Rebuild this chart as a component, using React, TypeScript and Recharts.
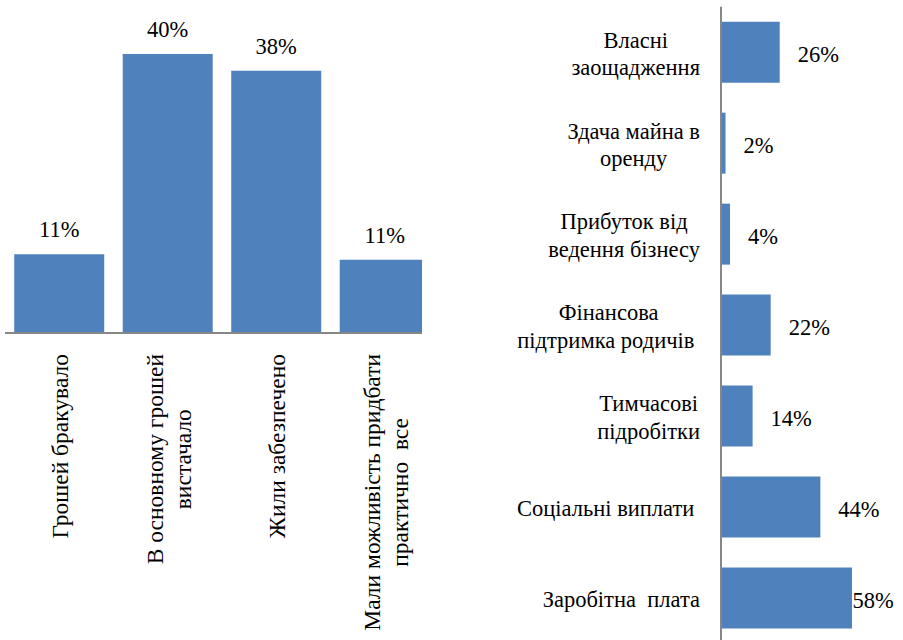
import React from 'react';
import { BarChart, Bar, XAxis, YAxis, LabelList } from 'recharts';

const FONT = 'Liberation Serif';
const BAR_COLOR = '#4F81BD';
const AXIS_COLOR = '#878787';

// Left chart: how households lived
const livingCategories = [
  'Грошей бракувало',
  'В основному грошей\nвистачало',
  'Жили забезпечено',
  'Мали можливість придбати\nпрактично  все',
];
const livingShares = [11.3, 40, 37.6, 10.5];

// Right chart: sources of income
const incomeCategories = [
  'Власні\nзаощадження',
  'Здача майна в\nоренду',
  'Прибуток від\nведення бізнесу',
  'Фінансова\nпідтримка родичів ',
  'Тимчасові\nпідробітки',
  'Соціальні виплати ',
  'Заробітна  плата',
];
const incomeShares = [26, 2, 4, 22, 14, 44, 58];

const livingData = livingCategories.map((name, i) => ({ name, value: livingShares[i] }));
const incomeData = incomeCategories.map((name, i) => ({ name, value: incomeShares[i] }));

let measureCtx: CanvasRenderingContext2D | null = null;
function textWidth(s: string, size: number): number {
  if (!measureCtx) measureCtx = document.createElement('canvas').getContext('2d');
  if (!measureCtx) return s.length * size * 0.5;
  measureCtx.font = `${size}px Liberation Serif`;
  return measureCtx.measureText(s).width;
}

const textStyle = (fs: number): React.CSSProperties => ({
  fontFamily: FONT,
  fontSize: fs,
  whiteSpace: 'pre',
});

const RotatedTick = (props: any) => {
  const { x, y, payload } = props;
  const lines = String(payload.value).split('\n');
  const fs = 23.5;
  const lh = 28;
  const widths = lines.map((l) => textWidth(l, fs));
  const maxW = Math.max(...widths);
  const cy = y + maxW / 2;
  const n = lines.length;
  return (
    <g>
      {lines.map((l, i) => (
        <text
          key={i}
          x={0}
          y={0}
          transform={`translate(${x + 1 + (i - (n - 1) / 2) * lh}, ${cy}) rotate(-90)`}
          textAnchor="middle"
          dominantBaseline="central"
          fill="#000"
          style={textStyle(fs)}
        >
          {l}
        </text>
      ))}
    </g>
  );
};

const StackedTick = (props: any) => {
  const { x, y, payload } = props;
  const lines = String(payload.value).split('\n');
  const fs = 22.5;
  const lh = 27.3;
  const widths = lines.map((l) => textWidth(l, fs));
  const maxW = Math.max(...widths);
  const cx = x - maxW / 2;
  const n = lines.length;
  return (
    <g>
      {lines.map((l, i) => (
        <text
          key={i}
          x={cx - widths[i] / 2}
          y={y + 1.5 + (i - (n - 1) / 2) * lh}
          textAnchor="start"
          dominantBaseline="central"
          fill="#000"
          style={textStyle(fs)}
        >
          {l.replace(/\s+$/, '')}
        </text>
      ))}
    </g>
  );
};

const LivingLabel = (props: any) => {
  const { x, y, width, value } = props;
  return (
    <text
      x={Number(x) + Number(width) / 2}
      y={Number(y) - 17}
      textAnchor="middle"
      fill="#000"
      style={textStyle(22.5)}
    >
      {`${Math.round(Number(value))}%`}
    </text>
  );
};

const RIGHT_CHART_W = 443;
const IncomeLabel = (props: any) => {
  const { x, y, width, height, value } = props;
  const label = `${value}%`;
  const w = textWidth(label, 22.5);
  const lx = Math.min(Number(x) + Number(width) + 18, RIGHT_CHART_W - 9.3 - w);
  return (
    <text
      x={lx}
      y={Number(y) + Number(height) / 2 + 2}
      textAnchor="start"
      dominantBaseline="central"
      fill="#000"
      style={textStyle(22.5)}
    >
      {label}
    </text>
  );
};

export default function App() {
  return (
    <div
      style={{
        position: 'absolute',
        left: 0,
        top: 0,
        width: 903,
        height: 640,
        overflow: 'hidden',
        background: '#fff',
        fontFamily: FONT,
      }}
    >
      <div style={{ position: 'absolute', left: 0, top: 0, width: 422, height: 640, overflow: 'hidden' }}>
        <BarChart
          width={460}
          height={640}
          data={livingData}
          margin={{ top: 54, right: 21, bottom: 0, left: 5 }}
          barCategoryGap="8.5%"
        >
          <XAxis
            dataKey="name"
            height={307}
            interval={0}
            axisLine={{ stroke: AXIS_COLOR, strokeWidth: 2 }}
            tickLine={false}
            tickSize={0}
            tickMargin={21}
            tick={<RotatedTick />}
          />
          <YAxis hide domain={[0, 40]} />
          <Bar dataKey="value" fill={BAR_COLOR} isAnimationActive={false}>
            <LabelList dataKey="value" content={<LivingLabel />} />
          </Bar>
        </BarChart>
      </div>
      <div style={{ position: 'absolute', left: 460, top: 0, width: RIGHT_CHART_W, height: 650 }}>
        <BarChart
          width={RIGHT_CHART_W}
          height={650}
          data={incomeData}
          layout="vertical"
          margin={{ top: 6.7, right: 46.5, bottom: 6.5, left: 0 }}
          barCategoryGap="16.5%"
        >
          <XAxis type="number" hide domain={[0, 60]} />
          <YAxis
            type="category"
            dataKey="name"
            width={261}
            interval={0}
            axisLine={{ stroke: AXIS_COLOR, strokeWidth: 2 }}
            tickLine={false}
            tickSize={0}
            tickMargin={21}
            tick={<StackedTick />}
          />
          <Bar dataKey="value" fill={BAR_COLOR} isAnimationActive={false}>
            <LabelList dataKey="value" content={<IncomeLabel />} />
          </Bar>
        </BarChart>
      </div>
    </div>
  );
}
